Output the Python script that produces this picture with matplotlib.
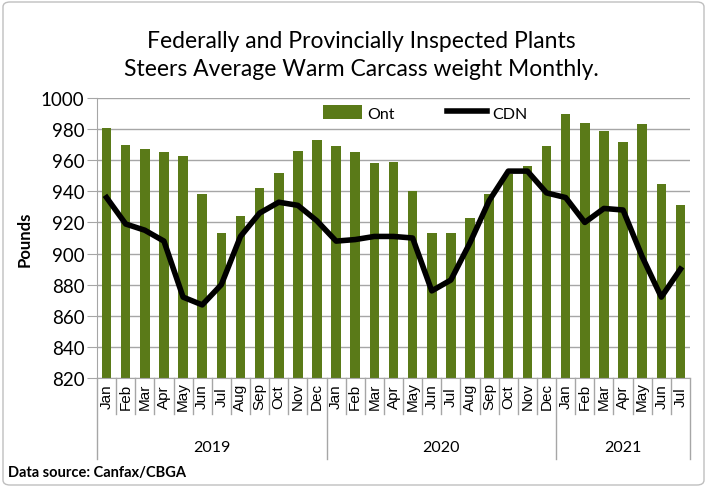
import matplotlib
matplotlib.use("Agg")
import matplotlib.pyplot as plt
from matplotlib.lines import Line2D
from matplotlib.patches import Patch, FancyBboxPatch

months = ["Jan", "Feb", "Mar", "Apr", "May", "Jun", "Jul", "Aug", "Sep", "Oct", "Nov", "Dec",
          "Jan", "Feb", "Mar", "Apr", "May", "Jun", "Jul", "Aug", "Sep", "Oct", "Nov", "Dec",
          "Jan", "Feb", "Mar", "Apr", "May", "Jun", "Jul"]
years = ["2019", "2020", "2021"]
year_counts = [12, 12, 7]

ont = [981, 970, 967, 965, 963, 938, 913, 924, 942, 952, 966, 973,
       969, 965, 958, 959, 940, 913, 913, 923, 938, 951, 956, 969,
       990, 984, 979, 972, 983, 945, 931]
cdn = [936, 919, 915, 908, 872, 867, 880, 911, 926, 933, 931, 921,
       908, 909, 911, 911, 910, 876, 883, 907, 934, 953, 953, 939,
       936, 920, 929, 928, 898, 872, 890]

W, H = 707, 489
fig = plt.figure(figsize=(W / 100, H / 100), dpi=100)
fig.patches.append(FancyBboxPatch((3 / W, 3 / H), 1 - 6 / W, 1 - 6 / H,
                                  boxstyle="round,pad=0,rounding_size=0.01",
                                  transform=fig.transFigure, fill=False,
                                  edgecolor="#bfbfbf", linewidth=1))

x0, x1, y0, y1 = 97, 690, 99, 379
ax = fig.add_axes([x0 / W, 1 - y1 / H, (x1 - x0) / W, (y1 - y0) / H])

font = "Lato"
bar_color = "#5a7a18"
xs = list(range(len(months)))
ax.bar(xs, ont, width=0.5, color=bar_color, bottom=0, zorder=2)
ax.plot(xs, cdn, color="black", linewidth=4, zorder=3, solid_joinstyle="round")

ax.set_xlim(-0.5, len(months) - 0.5)
ax.set_ylim(820, 1000)
ax.set_yticks(range(820, 1001, 20))
ax.yaxis.grid(True, color="#a6a6a6", linewidth=1, zorder=0)
ax.set_axisbelow(True)
for s in ["top", "right"]:
    ax.spines[s].set_visible(False)
ax.spines["left"].set_color("#a6a6a6")
ax.spines["bottom"].set_color("#a6a6a6")
ax.tick_params(axis="y", length=7, color="#a6a6a6", labelsize=13.5, pad=2)
for lab in ax.get_yticklabels():
    lab.set_fontfamily(font)
ax.set_xticks([])

ax.set_ylabel("Pounds", fontsize=12, fontweight="bold", fontfamily=font, labelpad=6)

# month labels and separators below axis
trans = ax.get_xaxis_transform()
for i, m in enumerate(months):
    ax.text(i, -0.064, m, rotation=90, ha="center", va="center", fontsize=11,
            fontfamily="Liberation Sans", transform=trans, clip_on=False)
ph = y1 - y0
month_sep = (415 - 379) / ph
year_sep = (460 - 379) / ph
bounds = [-0.5]
for c in year_counts:
    bounds.append(bounds[-1] + c)
for b in range(len(months) + 1):
    xb = b - 0.5
    ln = year_sep if xb in bounds else month_sep
    ax.add_line(Line2D([xb, xb], [0, -ln], transform=trans, color="#a6a6a6",
                       linewidth=1, clip_on=False))
for k, y in enumerate(years):
    xc = (bounds[k] + bounds[k + 1]) / 2
    ax.text(xc, -(448 - 379) / ph, y, ha="center", va="center", fontsize=11.5,
            fontfamily=font, transform=trans)

# title
fig.text(361 / W, 1 - 42 / H, "Federally and Provincially Inspected Plants",
         ha="center", va="center", fontsize=16.5, fontfamily=font)
fig.text(361 / W, 1 - 70 / H, "Steers Average Warm Carcass weight Monthly.",
         ha="center", va="center", fontsize=16.5, fontfamily=font)

# legend
handles = [Patch(facecolor=bar_color, edgecolor="none"),
           Line2D([0], [0], color="black", linewidth=4)]
leg = ax.legend(handles, ["Ont", "CDN"], loc="center", ncol=2, frameon=False,
                bbox_to_anchor=((425 - x0) / (x1 - x0), 1 - (114 - y0) / ph),
                columnspacing=3.3, handlelength=2.5,
                handleheight=0.9, prop={"family": font, "size": 11.5}, handletextpad=0.3)

fig.text(8 / W, 1 - 473 / H, "Data source: Canfax/CBGA", ha="left", va="center",
         fontsize=10.5, fontweight="bold", fontfamily=font)

fig.savefig("out.png", dpi=100)
